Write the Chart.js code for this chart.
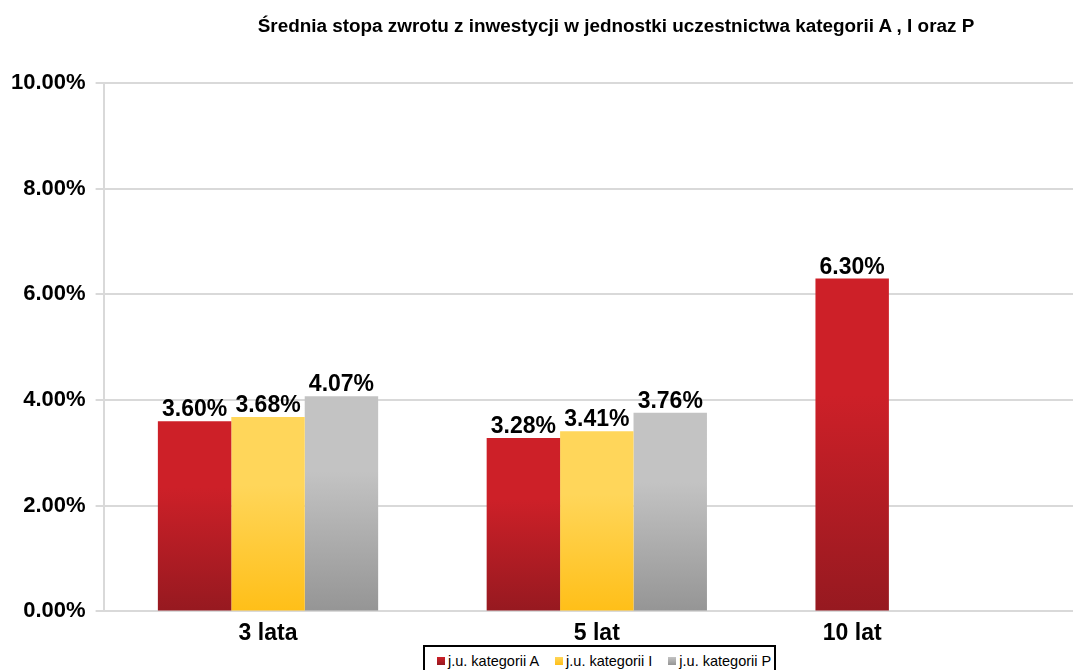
<!DOCTYPE html>
<html>
<head>
<meta charset="utf-8">
<script src="https://cdn.jsdelivr.net/npm/chart.js@4/dist/chart.umd.min.js"></script>
<style>
  html, body { margin: 0; padding: 0; background: #fff; overflow: hidden; }
  #wrap { position: relative; width: 1090px; height: 670px; }
  #title {
    position: absolute; left: 216px; top: 15px; width: 800px; text-align: center; line-height: 1;
    font: bold 18.9px "Liberation Sans", Arial, sans-serif; color: #000; white-space: nowrap;
  }
  #legend {
    position: absolute; left: 423px; top: 645px; width: 353px; height: 30px;
    border: 2px solid #000; box-sizing: border-box; background: #fff;
    font: 14.5px "Liberation Sans", Arial, sans-serif; color: #000; line-height: 1;
    display: flex; align-items: flex-start; padding: 7px 0 0 12px; white-space: nowrap;
  }
  #legend span.item { display: inline-flex; align-items: center; margin-right: 16px; }
  #legend i { display: inline-block; width: 8px; height: 8px; margin-right: 3px; }
</style>
</head>
<body>
<div id="wrap">
  <canvas id="chart" width="1090" height="670"></canvas>
  <div id="title"></div>
  <div id="legend"></div>
</div>
<script>
(function () {
    const title = 'Średnia stopa zwrotu z inwestycji w jednostki uczestnictwa kategorii A , I oraz P';
    const categories = ['3 lata', '5 lat', '10 lat'];
    const seriesNames = ['j.u. kategorii A', 'j.u. kategorii I', 'j.u. kategorii P'];
    const valuesA = [3.60, 3.28, 6.30];
    const valuesI = [3.68, 3.41, null];
    const valuesP = [4.07, 3.76, null];
    const yTicks = [0, 2, 4, 6, 8, 10];

    // top colour, bottom colour of each series gradient
    const colours = [
        ['#cd2028', '#961920'],
        ['#ffd65a', '#ffbf18'],
        ['#c3c3c3', '#959595']
    ];

    const labelFont = 'bold 23px "Liberation Sans", Arial, sans-serif';

    document.getElementById('title').textContent = title;

    let legend = document.getElementById('legend');
    seriesNames.forEach((name, i) => {
        let item = document.createElement('span');
        item.className = 'item';
        let box = document.createElement('i');
        box.style.background = `linear-gradient(${colours[i][0]}, ${colours[i][1]})`;
        item.appendChild(box);
        item.appendChild(document.createTextNode(name));
        legend.appendChild(item);
    });

    function barGradient(i) {
        return function (ctx) {
            let chart = ctx.chart;
            let area = chart.chartArea;
            if (!area || ctx.raw == null) return colours[i][0];
            let top = chart.scales.y.getPixelForValue(ctx.raw);
            let g = chart.ctx.createLinearGradient(0, top, 0, area.bottom);
            g.addColorStop(0, colours[i][0]);
            g.addColorStop(0.35, colours[i][0]);
            g.addColorStop(1, colours[i][1]);
            return g;
        };
    }

    // value above each bar, and category name centred under the bars that exist
    const valueLabels = {
        id: 'valueLabels',
        afterDatasetsDraw(chart) {
            let c = chart.ctx;
            c.save();
            c.font = labelFont;
            c.fillStyle = '#000';
            c.textAlign = 'center';
            c.textBaseline = 'alphabetic';
            let centres = categories.map(() => []);
            chart.data.datasets.forEach((ds, di) => {
                let meta = chart.getDatasetMeta(di);
                meta.data.forEach((bar, j) => {
                    let v = ds.data[j];
                    if (v == null) return;
                    centres[j].push(bar.x);
                    c.fillText(v.toFixed(2) + '%', bar.x, bar.y - 5);
                });
            });
            let xs = chart.scales.x;
            c.textBaseline = 'middle';
            categories.forEach((cat, j) => {
                let pts = centres[j];
                let x = pts.length ? pts.reduce((a, b) => a + b, 0) / pts.length : xs.getPixelForValue(j);
                c.fillText(cat, x, xs.top + 8 + 23 * 1.2 / 2);
            });
            c.restore();
        }
    };

    let allSeries = [valuesA, valuesI, valuesP];

    new Chart(document.getElementById('chart'), {
        type: 'bar',
        data: {
            labels: categories,
            datasets: allSeries.map((vals, i) => ({
                label: seriesNames[i],
                data: vals,
                backgroundColor: barGradient(i),
                borderWidth: 0,
                categoryPercentage: 0.67,
                barPercentage: 1
            }))
        },
        options: {
            responsive: false,
            animation: false,
            layout: { padding: { left: 1, top: 83, right: 0, bottom: 15 } },
            plugins: {
                legend: { display: false },
                tooltip: { enabled: false },
                title: { display: false }
            },
            scales: {
                x: {
                    grid: { display: false, drawTicks: false },
                    border: { display: true, color: '#d9d9d9', width: 2 },
                    ticks: {
                        color: 'rgba(0,0,0,0)',
                        padding: 8,
                        font: { family: '"Liberation Sans", Arial, sans-serif', size: 23, weight: 'bold' }
                    }
                },
                y: {
                    min: 0,
                    max: 10,
                    afterBuildTicks(scale) {
                        scale.ticks = yTicks.map(v => ({ value: v }));
                    },
                    grid: { color: '#d9d9d9', lineWidth: 2, tickLength: 8 },
                    border: { display: true, color: '#d9d9d9', width: 2 },
                    ticks: {
                        color: '#000',
                        padding: 10,
                        callback: v => v.toFixed(2) + '%',
                        font: { family: '"Liberation Sans", Arial, sans-serif', size: 22, weight: 'bold' }
                    }
                }
            }
        },
        plugins: [valueLabels]
    });
})();
</script>
</body>
</html>
